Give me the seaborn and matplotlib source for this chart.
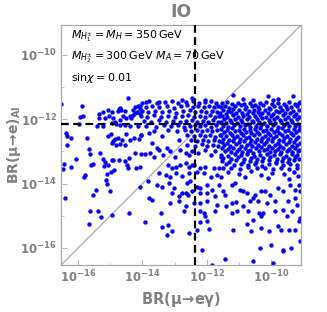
import numpy as np
import pandas as pd
import matplotlib
matplotlib.use("Agg")
import matplotlib.pyplot as plt
import seaborn as sns
from matplotlib.ticker import FixedLocator, NullFormatter

# ---- data (log10 values) ----
lo_log, hi_log = -16.53, -9.07
meg_bound = 4.2e-13      # vertical dashed line, BR(mu->e gamma)
conv_bound = 7.0e-13     # horizontal dashed line, BR(mu->e)_Al

sparse_left = [(-14.45,-11.34),(-15.87,-11.59),(-15.95,-11.93),(-15.84,-11.89),(-16.52,-11.53),(-15.24,-11.76),
(-15.07,-11.71),(-14.94,-11.78),(-14.73,-11.68),(-14.70,-11.65),(-14.65,-11.71),(-14.76,-11.74),(-14.55,-11.74),
(-14.29,-11.71),(-14.22,-11.63),(-14.14,-11.60),(-14.08,-11.68),(-14.16,-11.76),(-14.24,-11.81),(-14.08,-11.84),
(-15.36,-11.84),(-15.35,-11.97),(-15.17,-11.97),(-15.05,-11.89),(-14.91,-11.97),(-14.86,-12.07),(-14.71,-12.02),
(-14.60,-11.91),(-14.50,-11.97),(-14.40,-11.91),(-14.36,-11.97),(-14.28,-11.86),(-15.98,-12.15),(-15.40,-12.22),
(-15.22,-12.22),(-14.96,-12.12),(-14.81,-12.15),(-14.69,-12.17),(-14.55,-12.17),(-14.40,-12.22),(-14.14,-12.22),
(-16.36,-12.43),(-16.33,-12.53),(-16.23,-12.59),(-15.07,-12.53),(-14.99,-12.46),(-14.84,-12.61),(-14.76,-12.59),
(-14.91,-12.69),(-14.96,-12.74),(-14.63,-12.64),(-14.50,-12.46),(-14.40,-12.64),(-14.26,-12.59),(-14.11,-12.61),
(-14.05,-12.48),(-15.71,-12.57),(-14.55,-12.79),(-14.81,-12.81),(-14.71,-12.77),(-16.34,-12.81),(-15.66,-12.92),
(-15.64,-13.08),(-15.33,-13.05),(-15.22,-13.23),(-15.17,-13.33),(-14.96,-13.26),(-14.91,-13.26),(-14.73,-13.26),
(-14.55,-13.29),(-14.47,-13.41),(-14.42,-13.19),(-14.22,-13.05),(-14.03,-13.08),(-16.05,-13.23),(-16.43,-13.39),
(-16.21,-13.48),(-16.46,-13.54),(-15.59,-13.43),(-15.53,-13.38),(-15.20,-13.45),(-15.07,-13.41),(-14.99,-13.64),
(-14.88,-13.57),(-14.45,-13.50),(-14.21,-13.50),(-14.08,-13.47),(-15.79,-13.72),(-15.81,-13.78),(-15.09,-13.70),
(-15.12,-13.88),(-15.10,-14.01),(-15.02,-14.24),(-15.45,-14.19),(-15.53,-14.35),(-14.08,-14.12),(-16.41,-14.45),
(-15.64,-14.84),(-15.38,-14.86),(-15.30,-15.04),(-14.93,-14.97),(-14.43,-14.91),(-15.67,-15.26)]

sparse_mid = [(-14.03,-12.48),(-13.80,-12.43),(-13.70,-12.74),(-13.54,-12.90),(-13.75,-13.05),(-13.92,-13.08),
(-13.64,-13.16),(-13.47,-12.95),(-13.36,-13.10),(-13.23,-12.90),(-13.13,-13.00),(-12.99,-13.16),(-12.82,-12.95),
(-12.66,-13.05),(-12.56,-13.10),(-12.47,-13.00),(-12.27,-13.05),(-12.04,-12.95),(-11.88,-13.10),(-11.73,-13.00),
(-11.57,-13.16),(-13.20,-13.41),(-13.07,-13.52),(-12.95,-13.47),(-12.82,-13.41),(-12.66,-13.36),(-12.56,-13.47),
(-12.47,-13.41),(-12.40,-13.41),(-12.20,-13.52),(-12.04,-13.47),(-11.78,-13.52),(-11.63,-13.50),(-13.49,-13.67),
(-13.28,-13.72),(-13.13,-13.78),(-12.97,-13.67),(-12.76,-13.75),(-12.56,-13.67),(-12.30,-13.64),(-12.09,-13.67),
(-11.88,-13.78),(-11.68,-13.72),(-13.82,-13.93),(-13.54,-14.04),(-13.39,-14.09),(-13.18,-13.98),(-13.02,-14.14),
(-12.61,-13.98),(-12.51,-13.93),(-12.30,-14.09),(-12.20,-14.14),(-11.99,-14.04),(-11.83,-14.19),(-11.63,-14.04),
(-13.70,-14.50),(-13.80,-14.45),(-13.07,-14.29),(-12.87,-14.40),(-12.76,-14.29),(-12.66,-14.29),(-12.58,-14.35),
(-12.45,-14.24),(-12.20,-14.29),(-11.99,-14.29),(-11.73,-14.40),(-13.13,-14.60),(-12.87,-14.55),(-12.66,-14.71),
(-12.40,-14.60),(-12.20,-14.60),(-11.99,-14.55),(-11.68,-14.66),(-13.41,-14.91),(-12.71,-14.86),(-12.20,-14.86),
(-12.09,-14.91),(-12.04,-15.00),(-11.73,-14.86),(-13.92,-15.20),(-13.39,-15.36),(-13.20,-15.30),(-13.07,-15.48),
(-12.54,-15.54),(-12.30,-15.43),(-11.99,-15.15),(-11.94,-15.40),(-12.20,-15.19),(-13.25,-15.59),(-12.14,-16.05),
(-11.83,-16.52)]

sparse_right = [(-11.49,-14.24),(-11.43,-14.35),(-11.23,-14.04),(-11.12,-13.98),(-10.97,-14.19),(-10.87,-14.24),
(-10.76,-14.29),(-10.55,-14.45),(-10.50,-14.35),(-10.30,-14.24),(-10.19,-14.24),(-10.04,-14.35),(-9.78,-14.14),
(-9.62,-14.24),(-9.42,-14.04),(-9.26,-14.19),(-9.13,-14.04),(-9.10,-14.24),(-11.40,-14.71),(-11.23,-14.60),
(-11.09,-14.58),(-10.87,-14.71),(-10.66,-14.55),(-10.40,-14.55),(-10.14,-14.60),(-9.88,-14.55),(-9.47,-14.55),
(-9.26,-14.45),(-9.19,-14.66),(-11.23,-14.91),(-11.07,-14.86),(-10.71,-14.86),(-10.55,-15.12),(-10.37,-14.91),
(-10.30,-15.02),(-10.24,-14.91),(-9.88,-14.86),(-9.62,-14.81),(-9.52,-15.02),(-9.36,-14.86),(-9.11,-15.07),
(-11.18,-15.45),(-10.76,-15.26),(-10.61,-15.48),(-10.30,-15.38),(-10.06,-15.48),(-9.78,-15.33),(-9.68,-15.43),
(-9.44,-15.45),(-9.26,-15.43),(-9.13,-15.17),(-10.35,-16.00),(-9.99,-15.90),(-9.64,-16.05),(-9.64,-16.11),
(-9.37,-16.00),(-9.11,-15.79),(-11.43,-16.33),(-10.55,-16.42),(-9.93,-16.47)]

top_edge = [(-11.18,-11.26),(-10.87,-11.36),(-10.56,-11.40),(-10.09,-11.29),(-9.93,-11.40),(-9.78,-11.36),
(-9.31,-11.29),(-9.11,-11.45),(-12.76,-11.40),(-12.45,-11.34),(-12.04,-11.40),(-13.49,-11.47),(-13.90,-11.45)]

dense_right = [
(-11.52,-11.50),(-11.38,-11.47),(-11.21,-11.53),(-11.02,-11.49),(-10.85,-11.52),(-10.66,-11.48),(-10.50,-11.55),(-10.33,-11.50),(-10.15,-11.47),(-9.98,-11.53),(-9.80,-11.49),(-9.61,-11.52),(-9.44,-11.47),(-9.27,-11.54),(-9.12,-11.50),
(-11.56,-11.62),(-11.44,-11.58),(-11.30,-11.64),(-11.13,-11.60),(-10.95,-11.57),(-10.78,-11.63),(-10.60,-11.59),(-10.42,-11.61),(-10.24,-11.57),(-10.07,-11.64),(-9.90,-11.59),(-9.72,-11.62),(-9.55,-11.58),(-9.37,-11.63),(-9.20,-11.60),
(-11.48,-11.70),(-11.35,-11.73),(-11.18,-11.68),(-10.99,-11.72),(-10.82,-11.69),(-10.70,-11.74),(-10.54,-11.70),(-10.37,-11.67),(-10.19,-11.72),(-10.02,-11.69),(-9.85,-11.74),(-9.66,-11.70),(-9.49,-11.68),(-9.31,-11.73),(-9.14,-11.70),
(-11.58,-11.80),(-11.40,-11.83),(-11.25,-11.78),(-11.08,-11.82),(-10.90,-11.79),(-10.74,-11.84),(-10.57,-11.80),(-10.40,-11.77),(-10.27,-11.82),(-10.10,-11.79),(-9.93,-11.83),(-9.76,-11.78),(-9.58,-11.82),(-9.40,-11.80),(-9.23,-11.84),
(-11.53,-11.90),(-11.36,-11.93),(-11.19,-11.88),(-11.03,-11.92),(-10.87,-11.89),(-10.68,-11.94),(-10.51,-11.90),(-10.34,-11.87),(-10.16,-11.92),(-9.99,-11.89),(-9.82,-11.93),(-9.64,-11.88),(-9.47,-11.92),(-9.29,-11.90),(-9.13,-11.94),
(-11.45,-12.00),(-11.28,-12.03),(-11.12,-11.98),(-10.93,-12.02),(-10.76,-11.99),(-10.60,-12.04),(-10.45,-12.00),(-10.28,-11.97),(-10.08,-12.02),(-9.91,-11.99),(-9.73,-12.03),(-9.56,-11.98),(-9.38,-12.02),(-9.20,-12.00),
(-11.57,-12.10),(-11.41,-12.13),(-11.24,-12.08),(-11.06,-12.12),(-10.89,-12.09),(-10.72,-12.14),(-10.55,-12.10),(-10.38,-12.07),(-10.21,-12.12),(-10.04,-12.09),(-9.87,-12.13),(-9.69,-12.08),(-9.52,-12.12),(-9.34,-12.10),(-9.16,-12.14),
(-11.50,-12.20),(-11.33,-12.23),(-11.15,-12.18),(-10.98,-12.22),(-10.81,-12.19),(-10.64,-12.24),(-10.47,-12.20),(-10.31,-12.17),(-10.13,-12.22),(-9.95,-12.19),(-9.78,-12.23),(-9.60,-12.18),(-9.43,-12.22),(-9.25,-12.20),(-9.10,-12.24),
(-11.55,-12.30),(-11.38,-12.33),(-11.20,-12.28),(-11.01,-12.32),(-10.84,-12.29),(-10.66,-12.34),(-10.49,-12.30),(-10.33,-12.27),(-10.17,-12.32),(-10.00,-12.29),(-9.83,-12.33),(-9.65,-12.28),(-9.48,-12.32),(-9.30,-12.30),(-9.14,-12.34),
(-11.47,-12.40),(-11.29,-12.43),(-11.11,-12.38),(-10.94,-12.42),(-10.78,-12.39),(-10.61,-12.44),(-10.43,-12.40),(-10.25,-12.37),(-10.09,-12.42),(-9.92,-12.39),(-9.74,-12.43),(-9.57,-12.38),(-9.39,-12.42),(-9.21,-12.40),
(-11.56,-12.50),(-11.39,-12.53),(-11.22,-12.48),(-11.05,-12.52),(-10.88,-12.49),(-10.70,-12.54),(-10.53,-12.50),(-10.36,-12.47),(-10.19,-12.52),(-10.02,-12.49),(-9.85,-12.53),(-9.67,-12.48),(-9.50,-12.52),(-9.33,-12.50),(-9.15,-12.54),
(-11.49,-12.60),(-11.31,-12.63),(-11.14,-12.58),(-10.96,-12.62),(-10.79,-12.59),(-10.62,-12.64),(-10.44,-12.60),(-10.27,-12.57),(-10.11,-12.62),(-9.94,-12.59),(-9.76,-12.63),(-9.59,-12.58),(-9.41,-12.62),(-9.24,-12.60),
(-11.54,-12.70),(-11.37,-12.73),(-11.19,-12.68),(-11.00,-12.72),(-10.83,-12.69),(-10.67,-12.74),(-10.50,-12.70),(-10.32,-12.67),(-10.15,-12.72),(-9.97,-12.69),(-9.80,-12.73),(-9.63,-12.68),(-9.45,-12.72),(-9.28,-12.70),(-9.11,-12.74),
(-11.46,-12.80),(-11.27,-12.83),(-11.09,-12.78),(-10.92,-12.82),(-10.75,-12.79),(-10.58,-12.84),(-10.41,-12.80),(-10.23,-12.77),(-10.06,-12.82),(-9.89,-12.79),(-9.71,-12.83),(-9.54,-12.78),(-9.36,-12.82),(-9.19,-12.80),
(-11.52,-12.90),(-11.35,-12.93),(-11.17,-12.88),(-11.00,-12.92),(-10.82,-12.89),(-10.65,-12.94),(-10.48,-12.90),(-10.30,-12.87),(-10.13,-12.92),(-9.96,-12.89),(-9.79,-12.93),(-9.62,-12.88),(-9.44,-12.92),(-9.27,-12.90),(-9.12,-12.94),
(-11.44,-13.00),(-11.26,-13.03),(-11.07,-12.98),(-10.90,-13.02),(-10.73,-12.99),(-10.56,-13.04),(-10.39,-13.00),(-10.21,-12.97),(-10.04,-13.02),(-9.87,-12.99),(-9.69,-13.03),(-9.51,-12.98),(-9.34,-13.02),(-9.17,-13.00),
(-11.55,-13.10),(-11.33,-13.13),(-11.13,-13.08),(-10.95,-13.12),(-10.76,-13.09),(-10.52,-13.14),(-10.33,-13.10),(-10.14,-13.07),(-9.92,-13.12),(-9.73,-13.09),(-9.55,-13.13),(-9.36,-13.08),(-9.18,-13.12),
(-11.48,-13.20),(-11.25,-13.23),(-11.04,-13.18),(-10.85,-13.22),(-10.63,-13.19),(-10.44,-13.24),(-10.24,-13.20),(-10.02,-13.17),(-9.83,-13.22),(-9.64,-13.19),(-9.45,-13.23),(-9.25,-13.18),(-9.12,-13.22),
(-11.53,-13.30),(-11.30,-13.33),(-11.09,-13.28),(-10.88,-13.32),(-10.66,-13.29),(-10.46,-13.34),(-10.27,-13.30),(-10.05,-13.27),(-9.86,-13.32),(-9.66,-13.29),(-9.46,-13.33),(-9.28,-13.28),
(-11.40,-13.40),(-11.16,-13.43),(-10.93,-13.38),(-10.71,-13.42),(-10.50,-13.39),(-10.28,-13.44),(-10.07,-13.40),(-9.85,-13.37),(-9.62,-13.42),(-9.40,-13.39),(-9.18,-13.43),
(-11.50,-13.52),(-11.24,-13.50),(-10.98,-13.55),(-10.72,-13.49),(-10.45,-13.53),(-10.20,-13.50),(-9.94,-13.56),(-9.69,-13.51),(-9.43,-13.54),(-9.20,-13.50),
(-11.35,-13.65),(-11.00,-13.70),(-10.62,-13.62),(-10.30,-13.72),(-9.98,-13.66),(-9.60,-13.70),(-9.28,-13.63),
(-11.55,-13.78),(-10.80,-13.80),(-10.10,-13.82),(-9.45,-13.85),(-9.15,-13.76)]

dense_mid = [
(-14.02,-11.48),(-13.78,-11.44),(-13.55,-11.50),(-13.30,-11.46),(-13.08,-11.43),(-12.88,-11.49),(-12.66,-11.45),(-12.42,-11.42),(-12.25,-11.50),(-12.05,-11.46),(-11.86,-11.44),(-11.70,-11.49),
(-14.08,-11.60),(-13.90,-11.63),(-13.70,-11.58),(-13.47,-11.62),(-13.25,-11.59),(-13.02,-11.64),(-12.81,-11.60),(-12.60,-11.57),(-12.43,-11.62),(-12.28,-11.59),(-12.10,-11.63),(-11.93,-11.58),(-11.78,-11.62),(-11.64,-11.60),
(-14.00,-11.75),(-13.82,-11.78),(-13.60,-11.73),(-13.38,-11.77),(-13.16,-11.74),(-12.95,-11.79),(-12.73,-11.75),(-12.52,-11.72),(-12.35,-11.77),(-12.18,-11.74),(-12.01,-11.78),(-11.84,-11.73),(-11.68,-11.77),
(-14.05,-11.90),(-13.85,-11.93),(-13.63,-11.88),(-13.41,-11.92),(-13.20,-11.89),(-12.98,-11.94),(-12.77,-11.90),(-12.57,-11.87),(-12.39,-11.92),(-12.22,-11.89),(-12.06,-11.93),(-11.90,-11.88),(-11.74,-11.92),(-11.62,-11.90),
(-13.95,-12.05),(-13.72,-12.08),(-13.48,-12.03),(-13.26,-12.07),(-13.05,-12.04),(-12.84,-12.09),(-12.63,-12.05),(-12.46,-12.02),(-12.30,-12.07),(-12.13,-12.04),(-11.97,-12.08),(-11.81,-12.03),(-11.66,-12.07),
(-13.88,-12.20),(-13.58,-12.23),(-13.33,-12.18),(-13.10,-12.22),(-12.90,-12.19),(-12.70,-12.24),(-12.52,-12.20),(-12.36,-12.17),(-12.20,-12.22),(-12.04,-12.19),(-11.88,-12.23),(-11.72,-12.18),
(-13.65,-12.36),(-13.20,-12.33),(-12.92,-12.38),(-12.68,-12.34),(-12.48,-12.37),(-12.31,-12.32),(-12.15,-12.36),(-11.99,-12.33),(-11.83,-12.38),(-11.67,-12.34),
(-12.60,-12.50),(-12.40,-12.53),(-12.22,-12.48),(-12.05,-12.52),(-11.89,-12.49),(-11.73,-12.54),(-11.60,-12.50),(-13.40,-12.52),
(-12.50,-12.65),(-12.30,-12.68),(-12.12,-12.63),(-11.95,-12.67),(-11.78,-12.64),(-11.63,-12.69),(-12.85,-12.66),
(-12.62,-12.80),(-12.38,-12.83),(-12.16,-12.78),(-11.98,-12.82),(-11.80,-12.79),(-11.65,-12.83)]

x_ticks = [1e-16, 1e-14, 1e-12, 1e-10]
x_ticklabels = [r"$\mathbf{10^{-16}}$", r"$\mathbf{10^{-14}}$", r"$\mathbf{10^{-12}}$", r"$\mathbf{10^{-10}}$"]
y_ticks = [1e-16, 1e-14, 1e-12, 1e-10]
y_ticklabels = x_ticklabels

# ---- assemble ----
pts = sparse_left + sparse_mid + sparse_right + top_edge + dense_right + dense_mid
df = pd.DataFrame(pts, columns=["lx", "ly"])
df["x"] = 10.0 ** df["lx"]
df["y"] = 10.0 ** df["ly"]

gray = "#808080"
fig = plt.figure(figsize=(3.27, 3.12), dpi=100)
ax = fig.add_axes([61/327, 47/312, 240/327, 240/312])
ax.set_xscale("log")
ax.set_yscale("log")
lo, hi = 10 ** lo_log, 10 ** hi_log

ax.plot([lo, hi], [lo, hi], color="#a0a0a0", lw=0.8, zorder=1)
sns.scatterplot(data=df, x="x", y="y", ax=ax, color="#0000ff", s=10, linewidth=0, zorder=2, legend=False)
ax.axvline(meg_bound, color="black", lw=1.6, ls=(0, (3.5, 2)), zorder=3)
ax.axhline(conv_bound, color="black", lw=1.6, ls=(0, (3.5, 2)), zorder=3)

ax.set_xlim(lo, hi)
ax.set_ylim(lo, hi)
ax.xaxis.set_major_locator(FixedLocator(x_ticks))
ax.yaxis.set_major_locator(FixedLocator(y_ticks))
ax.xaxis.set_minor_locator(FixedLocator([10.0 ** k for k in range(-16, -8)]))
ax.yaxis.set_minor_locator(FixedLocator([10.0 ** k for k in range(-16, -8)]))
ax.xaxis.set_minor_formatter(NullFormatter())
ax.yaxis.set_minor_formatter(NullFormatter())
ax.set_xticklabels(x_ticklabels)
ax.set_yticklabels(y_ticklabels)
ax.tick_params(which="major", direction="in", length=4, width=0.6, color="#b0b0b0",
               labelsize=8.5, labelcolor=gray, pad=3)
ax.tick_params(which="minor", direction="in", length=2, width=0.5, color="#b0b0b0")
for sp in ax.spines.values():
    sp.set_color("#a8a8a8")
    sp.set_linewidth(0.9)

ax.set_xlabel(r"$\mathbf{BR(\mu\!\rightarrow\! e\gamma)}$", color=gray, fontsize=10.5, labelpad=3)
ax.set_ylabel(r"$\mathbf{BR(\mu\!\rightarrow\! e)_{Al}}$", color=gray, fontsize=10)
ax.yaxis.set_label_coords(-0.16, 0.5)
ax.set_title("IO", color=gray, fontsize=12.5, fontweight="bold", pad=6)

tkw = dict(transform=ax.transAxes, fontsize=8, color="black", ha="left", va="center")
ax.text(0.04, 0.955, r"$M_{H_1^{\pm}}=M_H=350\,\mathrm{GeV}$", **tkw)
ax.text(0.04, 0.865, r"$M_{H_2^{\pm}}=300\,\mathrm{GeV}\ M_A=70\,\mathrm{GeV}$", **tkw)
ax.text(0.04, 0.78, r"$\mathrm{sin}\chi=0.01$", **tkw)

fig.savefig("out.png", dpi=100)
